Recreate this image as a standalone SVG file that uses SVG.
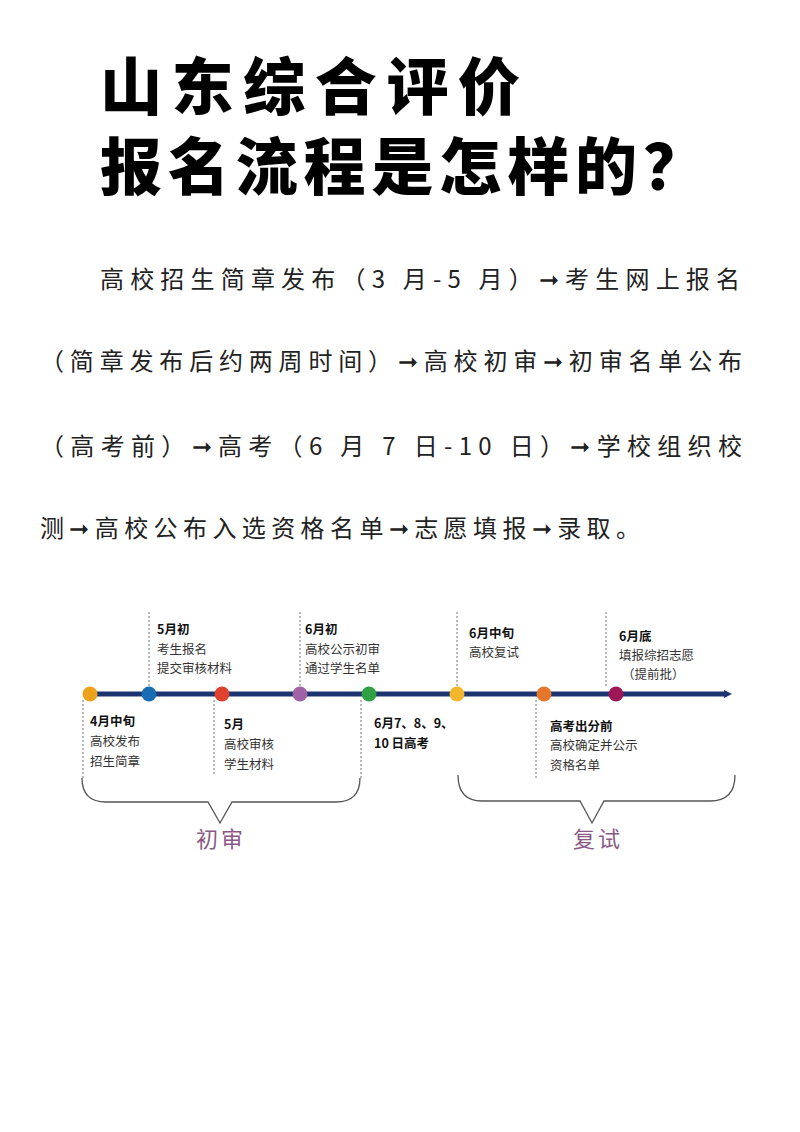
<svg xmlns="http://www.w3.org/2000/svg" width="800" height="1132" viewBox="0 0 800 1132">
<style>
.t{font-family:"Noto Sans CJK SC",sans-serif;font-weight:900;font-size:62px;fill:#000}
.b{font-family:"Noto Sans CJK SC",sans-serif;font-size:24px;fill:#222}
.s{font-family:"Noto Sans CJK SC",sans-serif;font-size:12.5px;fill:#333}
.h{font-weight:bold;fill:#111}
.d{stroke:#777;stroke-width:1;stroke-dasharray:2,2}
.br{fill:none;stroke:#555;stroke-width:1.3}
.g{font-family:"Noto Sans CJK SC",sans-serif;font-size:22px;fill:#8a5a85;letter-spacing:3px}
</style>
<rect width="800" height="1132" fill="#fff"/>
<text class="t" x="100" y="110" textLength="420" lengthAdjust="spacing">山东综合评价</text>
<text class="t" x="100" y="190" textLength="605" lengthAdjust="spacing">报名流程是怎样的？</text>
<text class="b" x="100" y="288" textLength="640" lengthAdjust="spacing">高校招生简章发布（3 月-5 月）➞考生网上报名</text>
<text class="b" x="40" y="370" textLength="702" lengthAdjust="spacing">（简章发布后约两周时间）➞高校初审➞初审名单公布</text>
<text class="b" x="40" y="455" textLength="702" lengthAdjust="spacing">（高考前）➞高考（6 月 7 日-10 日）➞学校组织校</text>
<text class="b" x="40" y="537" textLength="600" lengthAdjust="spacing">测➞高校公布入选资格名单➞志愿填报➞录取。</text>
<g id="connectors">
<line x1="85" y1="694" x2="726" y2="694" stroke="#1c3570" stroke-width="5"/>
<polygon points="724,690 732,694 724,698" fill="#1c3570"/>
<line class="d" x1="149" y1="612" x2="149" y2="688"/>
<line class="d" x1="300" y1="612" x2="300" y2="688"/>
<line class="d" x1="457" y1="612" x2="457" y2="688"/>
<line class="d" x1="606" y1="612" x2="606" y2="688"/>
<line class="d" x1="83" y1="700" x2="83" y2="778"/>
<line class="d" x1="214" y1="700" x2="214" y2="775"/>
<line class="d" x1="361" y1="700" x2="361" y2="778"/>
<line class="d" x1="536" y1="700" x2="536" y2="778"/>
<path class="br" d="M82,778 Q82,802 106,802 L208,802 L220,823 L232,802 L336,802 Q360,802 360,778"/>
<path class="br" d="M458,775 Q458,801 482,801 L580,801 L592,823 L604,801 L710,801 Q735,801 735,775"/>
</g>
<g id="n1"><circle cx="90" cy="694" r="7.5" fill="#eda21c"/><text class="s h" x="90" y="726">4月中旬</text><text class="s" x="90" y="746">高校发布</text><text class="s" x="90" y="766">招生简章</text></g>
<g id="n2"><circle cx="149" cy="694" r="7.5" fill="#1a6cb4"/><text class="s h" x="157" y="634">5月初</text><text class="s" x="157" y="654">考生报名</text><text class="s" x="157" y="673">提交审核材料</text></g>
<g id="n3"><circle cx="222" cy="694" r="7.5" fill="#e0412e"/><text class="s h" x="224" y="729">5月</text><text class="s" x="224" y="749">高校审核</text><text class="s" x="224" y="769">学生材料</text></g>
<g id="n4"><circle cx="300" cy="694" r="7.5" fill="#a061a6"/><text class="s h" x="305" y="634">6月初</text><text class="s" x="305" y="654">高校公示初审</text><text class="s" x="305" y="673">通过学生名单</text></g>
<g id="n5"><circle cx="369" cy="694" r="7.5" fill="#2fa143"/><text class="s h" x="374" y="728">6月7、8、9、</text><text class="s h" x="374" y="748">10 日高考</text></g>
<g id="n6"><circle cx="457" cy="694" r="7.5" fill="#f3b72e"/><text class="s h" x="469" y="638">6月中旬</text><text class="s" x="469" y="657">高校复试</text></g>
<g id="n7"><circle cx="544" cy="694" r="7.5" fill="#e5762a"/><text class="s h" x="550" y="731">高考出分前</text><text class="s" x="550" y="750">高校确定并公示</text><text class="s" x="550" y="770">资格名单</text></g>
<g id="n8"><circle cx="616" cy="694" r="7.5" fill="#9e1858"/><text class="s h" x="619" y="641">6月底</text><text class="s" x="619" y="660">填报综招志愿</text><text class="s" x="622" y="679">（提前批）</text></g>
<text class="g" x="196" y="847">初审</text>
<text class="g" x="573" y="847">复试</text>
</svg>
